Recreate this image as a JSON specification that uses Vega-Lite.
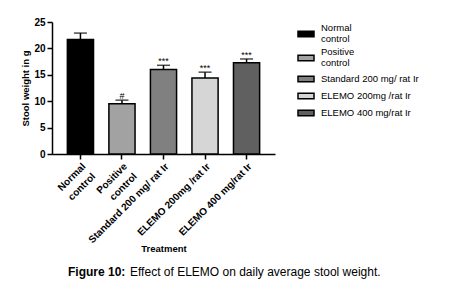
{
  "$schema": "https://vega.github.io/schema/vega-lite/v6.json",
  "width": 223,
  "height": 132,
  "autosize": "none",
  "padding": {"left": 52, "top": 22, "right": 183, "bottom": 143},
  "background": "white",
  "data": {
    "values": [
      {"treatment": "Normal control", "mean": 21.7, "upper": 22.9, "sig": ""},
      {"treatment": "Positive control", "mean": 9.5, "upper": 10.2, "sig": "#"},
      {"treatment": "Standard 200 mg/ rat Ir", "mean": 16.0, "upper": 16.8, "sig": "***"},
      {"treatment": "ELEMO 200mg /rat Ir", "mean": 14.4, "upper": 15.5, "sig": "***"},
      {"treatment": "ELEMO 400 mg/rat Ir", "mean": 17.3, "upper": 18.0, "sig": "***"}
    ]
  },
  "title": {
    "text": "Figure 10:",
    "subtitle": "Effect of ELEMO on daily average stool weight.",
    "orient": "bottom",
    "anchor": "start",
    "frame": "group",
    "dx": 16,
    "offset": 14,
    "font": "Liberation Sans",
    "fontSize": 12,
    "fontWeight": "bold",
    "color": "black",
    "subtitleFont": "Liberation Sans",
    "subtitleFontSize": 12,
    "subtitleFontWeight": "normal",
    "subtitleColor": "black",
    "subtitlePadding": -12,
    "encode": {"subtitle": {"update": {"dx": {"value": 78}}}}
  },
  "encoding": {
    "x": {
      "field": "treatment",
      "type": "nominal",
      "sort": null,
      "title": "Treatment",
      "scale": {"paddingInner": 0.37, "paddingOuter": 0.37},
      "axis": {
        "labelAngle": -45,
        "labelAlign": "right",
        "labelBaseline": "top",
        "labelPadding": 2,
        "labelLineHeight": 14,
        "titlePadding": -1,
        "labelFontSize": 10,
        "labelOverlap": false,
        "labelExpr": "datum.label == 'Normal control' ? ['Normal', 'control'] : datum.label == 'Positive control' ? ['Positive', 'control'] : datum.label"
      }
    },
    "y": {
      "field": "mean",
      "type": "quantitative",
      "title": "Stool weight in g",
      "scale": {"domain": [0, 25], "nice": false},
      "axis": {"values": [0, 5, 10, 15, 20, 25], "titlePadding": 3, "labelOverlap": false, "labelFlush": false, "labelPadding": 2}
    }
  },
  "layer": [
    {
      "mark": {"type": "bar", "stroke": "black", "strokeWidth": 1.5},
      "encoding": {
        "fill": {
          "field": "treatment",
          "type": "nominal",
          "sort": null,
          "scale": {"range": ["#000000", "#a2a2a2", "#808080", "#d6d6d6", "#606060"]},
          "legend": {
            "title": null,
            "orient": "none",
            "legendX": 245,
            "legendY": 3,
            "symbolType": "M-1,-0.35L1,-0.35L1,0.35L-1,0.35Z",
            "symbolSize": 256,
            "symbolStrokeColor": "black",
            "symbolStrokeWidth": 1.5,
            "symbolOpacity": 1,
            "labelFont": "Liberation Sans",
            "labelFontSize": 9.5,
            "labelLineHeight": 13,
            "labelColor": "black",
            "labelOffset": 6,
            "rowPadding": 2,
            "labelLimit": 200,
            "labelExpr": "datum.label == 'Normal control' ? ['Normal', 'control'] : datum.label == 'Positive control' ? ['Positive', 'control'] : datum.label",
            "encoding": {
              "labels": {
                "dy": {
                  "condition": {"test": "indexof(['Normal control', 'Positive control'], datum.value) >= 0", "value": -6.5},
                  "value": 0
                }
              }
            }
          }
        }
      }
    },
    {
      "mark": {"type": "rule", "color": "black", "strokeWidth": 1.5},
      "encoding": {
        "y2": {"field": "upper"}
      }
    },
    {
      "mark": {"type": "tick", "color": "black", "size": 13, "thickness": 1.5, "orient": "horizontal"},
      "encoding": {
        "y": {"field": "upper", "type": "quantitative"}
      }
    },
    {
      "mark": {"type": "text", "dy": -1, "fontSize": 9, "font": "Liberation Sans", "color": "black", "baseline": "alphabetic"},
      "encoding": {
        "y": {"field": "upper", "type": "quantitative"},
        "text": {"field": "sig"}
      }
    }
  ],
  "config": {
    "view": {"stroke": null},
    "axis": {
      "grid": false,
      "domainColor": "black",
      "domainWidth": 1.5,
      "tickColor": "black",
      "tickWidth": 1.5,
      "tickSize": 5,
      "labelFont": "Liberation Sans",
      "labelFontSize": 10,
      "labelFontWeight": "bold",
      "labelColor": "black",
      "titleFont": "Liberation Sans",
      "titleFontSize": 9.5,
      "titleFontWeight": "bold",
      "titleColor": "black"
    }
  }
}
